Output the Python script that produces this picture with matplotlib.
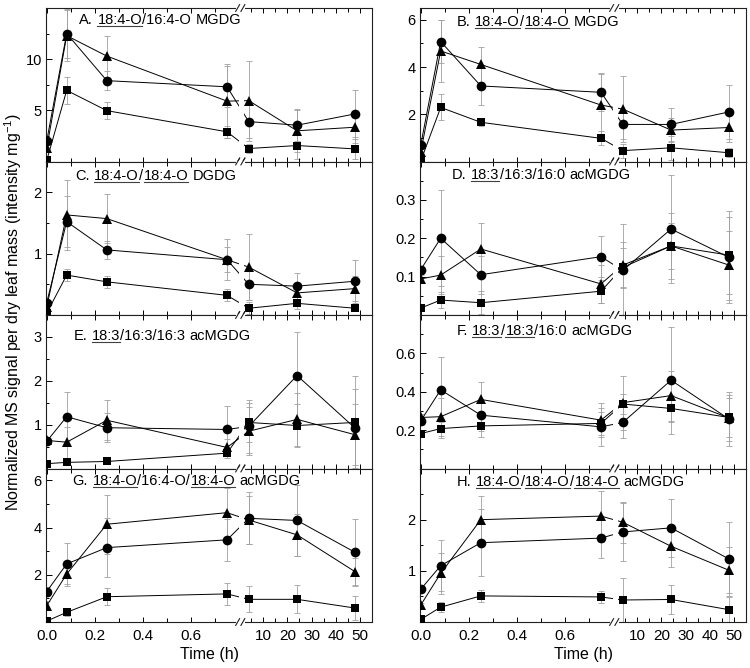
import numpy as np
import matplotlib
matplotlib.use("Agg")
import matplotlib.pyplot as plt
from matplotlib.lines import Line2D
from matplotlib.transforms import IdentityTransform

plt.rcParams['font.family'] = ['Liberation Sans', 'DejaVu Sans']
plt.rcParams['mathtext.fontset'] = 'custom'
plt.rcParams['mathtext.rm'] = 'Liberation Sans'

# ---------------- data ----------------
TIME = [0, 0.083, 0.25, 0.75, 4, 24, 48]
X_MAJOR = [0, 0.2, 0.4, 0.6, 10, 20, 30, 40, 50]
X_MAJOR_LABELS = ['0.0', '0.2', '0.4', '0.6', '10', '20', '30', '40', '50']
X_MINOR = [0.1, 0.3, 0.5, 0.7, 5, 15, 25, 35, 45]

A_circle = [2.0, 12.5, 7.9, 7.3, 3.9, 3.55, 4.65]
A_circle_err = [0.3, 2.4, 0.9, 2.0, 1.6, 1.5, 2.3]
A_triangle = [1.3, 12.3, 10.3, 5.9, 5.95, 3.0, 3.35]
A_triangle_err = [0.4, 2.5, 2.0, 3.6, 3.9, 2.1, 1.5]
A_square = [0.1, 6.95, 4.97, 2.9, 1.27, 1.56, 1.23]
A_square_err = [0.1, 1.3, 0.8, 0.6, 0.4, 1.3, 1.0]

B_circle = [0.7, 5.08, 3.2, 2.93, 1.57, 1.57, 2.1]
B_circle_err = [0.1, 0.9, 0.8, 0.8, 0.6, 0.7, 1.15]
B_triangle = [0.41, 4.68, 4.11, 2.39, 2.22, 1.33, 1.44]
B_triangle_err = [0.1, 1.3, 0.75, 1.3, 1.4, 0.5, 0.6]
B_square = [0.02, 2.29, 1.66, 0.98, 0.46, 0.58, 0.37]
B_square_err = [0.02, 0.55, 0.15, 0.3, 0.3, 0.5, 0.2]

C_circle = [0.2, 1.52, 1.06, 0.9, 0.5, 0.47, 0.55]
C_circle_err = [0.03, 0.42, 0.15, 0.33, 0.25, 0.22, 0.35]
C_triangle = [0.13, 1.63, 1.57, 0.9, 0.78, 0.36, 0.43]
C_triangle_err = [0.03, 0.57, 0.4, 0.2, 0.54, 0.15, 0.2]
C_square = [0.03, 0.65, 0.54, 0.32, 0.11, 0.19, 0.11]
C_square_err = [0.01, 0.1, 0.1, 0.1, 0.1, 0.1, 0.05]

D_circle = [0.118, 0.2, 0.105, 0.152, 0.116, 0.224, 0.15]
D_circle_err = [0.01, 0.125, 0.05, 0.053, 0.12, 0.14, 0.12]
D_triangle = [0.094, 0.104, 0.172, 0.081, 0.13, 0.18, 0.13]
D_triangle_err = [0.01, 0.05, 0.068, 0.05, 0.06, 0.085, 0.09]
D_square = [0.018, 0.039, 0.032, 0.062, 0.124, 0.18, 0.156]
D_square_err = [0.005, 0.02, 0.03, 0.03, 0.05, 0.06, 0.1]

E_circle = [0.62, 1.18, 0.93, 0.89, 0.96, 2.12, 0.92]
E_circle_err = [0.05, 0.56, 0.33, 0.53, 0.6, 1.0, 0.9]
E_triangle = [0.64, 0.6, 1.1, 0.48, 0.85, 1.12, 0.77]
E_triangle_err = [0.05, 0.35, 0.46, 0.2, 0.55, 0.6, 0.7]
E_square = [0.11, 0.14, 0.16, 0.35, 1.05, 0.98, 1.05]
E_square_err = [0.03, 0.03, 0.03, 0.1, 0.45, 0.5, 1.05]

F_circle = [0.248, 0.41, 0.278, 0.217, 0.24, 0.46, 0.257]
F_circle_err = [0.02, 0.17, 0.08, 0.1, 0.08, 0.28, 0.14]
F_triangle = [0.266, 0.27, 0.36, 0.252, 0.343, 0.38, 0.263]
F_triangle_err = [0.02, 0.1, 0.09, 0.09, 0.14, 0.13, 0.12]
F_square = [0.182, 0.208, 0.222, 0.235, 0.336, 0.313, 0.266]
F_square_err = [0.01, 0.05, 0.06, 0.06, 0.05, 0.07, 0.1]

G_circle = [1.29, 2.46, 3.15, 3.48, 4.39, 4.3, 2.95]
G_circle_err = [0.2, 0.87, 1.26, 0.9, 1.1, 1.5, 1.4]
G_triangle = [0.69, 2.03, 4.14, 4.63, 4.32, 3.69, 2.13]
G_triangle_err = [0.2, 0.5, 1.24, 1.03, 1.0, 0.9, 0.6]
G_square = [0.04, 0.41, 1.07, 1.19, 0.96, 0.96, 0.59]
G_square_err = [0.03, 0.15, 0.35, 0.45, 0.55, 0.6, 0.5]

H_circle = [0.64, 1.1, 1.55, 1.64, 1.76, 1.84, 1.23]
H_circle_err = [0.05, 0.5, 0.65, 0.38, 0.56, 0.57, 0.73]
H_triangle = [0.33, 0.95, 2.0, 2.07, 1.95, 1.48, 1.01]
H_triangle_err = [0.05, 0.4, 0.47, 0.5, 0.4, 0.41, 0.45]
H_square = [0.05, 0.29, 0.51, 0.49, 0.43, 0.44, 0.24]
H_square_err = [0.02, 0.1, 0.12, 0.12, 0.43, 0.28, 0.25]

# y axis: limits, labelled ticks, minor ticks
A_ylim, A_yticks, A_yminor = (0, 15), [5, 10], [2.5, 7.5, 12.5]
B_ylim, B_yticks, B_yminor = (0, 6.5), [2, 4, 6], [1, 3, 5]
C_ylim, C_yticks, C_yminor = (0, 2.5), [1, 2], [0.5, 1.5]
D_ylim, D_yticks, D_yminor = (0, 0.4), [0.1, 0.2, 0.3], [0.05, 0.15, 0.25, 0.35]
E_ylim, E_yticks, E_yminor = (0, 3.5), [1, 2, 3], [0.5, 1.5, 2.5]
F_ylim, F_yticks, F_yminor = (0, 0.8), [0.2, 0.4, 0.6], [0.1, 0.3, 0.5, 0.7]
G_ylim, G_yticks, G_yminor = (0, 6.5), [2, 4, 6], [1, 3, 5]
H_ylim, H_yticks, H_yminor = (0, 3.0), [1, 2], [0.5, 1.5, 2.5]

# titles: (text, underlined, space before)
A_title = [("A.", 0, 0), ("18:4-O", 1, 1), ("/16:4-O", 0, 0), ("MGDG", 0, 1)]
B_title = [("B.", 0, 0), ("18:4-O", 1, 1), ("/", 0, 0), ("18:4-O", 1, 0), ("MGDG", 0, 1)]
C_title = [("C.", 0, 0), ("18:4-O", 1, 1), ("/", 0, 0), ("18:4-O", 1, 0), ("DGDG", 0, 1)]
D_title = [("D.", 0, 0), ("18:3", 1, 1), ("/16:3/16:0", 0, 0), ("acMGDG", 0, 1)]
E_title = [("E.", 0, 0), ("18:3", 1, 1), ("/16:3/16:3", 0, 0), ("acMGDG", 0, 1)]
F_title = [("F.", 0, 0), ("18:3", 1, 1), ("/", 0, 0), ("18:3", 1, 0), ("/16:0", 0, 0), ("acMGDG", 0, 1)]
G_title = [("G.", 0, 0), ("18:4-O", 1, 1), ("/16:4-O/", 0, 0), ("18:4-O", 1, 0), ("acMGDG", 0, 1)]
H_title = [("H.", 0, 0), ("18:4-O", 1, 1), ("/", 0, 0), ("18:4-O", 1, 0), ("/", 0, 0),
           ("18:4-O", 1, 0), ("acMGDG", 0, 1)]

panels = [
    dict(row=0, col=0, c=A_circle, ce=A_circle_err, t=A_triangle, te=A_triangle_err, s=A_square, se=A_square_err,
         ylim=A_ylim, yt=A_yticks, ym=A_yminor, title=A_title, tx=0.102, ty=16.0),
    dict(row=0, col=1, c=B_circle, ce=B_circle_err, t=B_triangle, te=B_triangle_err, s=B_square, se=B_square_err,
         ylim=B_ylim, yt=B_yticks, ym=B_yminor, title=B_title, tx=0.114, ty=18.5),
    dict(row=1, col=0, c=C_circle, ce=C_circle_err, t=C_triangle, te=C_triangle_err, s=C_square, se=C_square_err,
         ylim=C_ylim, yt=C_yticks, ym=C_yminor, title=C_title, tx=0.090, ty=18.5),
    dict(row=1, col=1, c=D_circle, ce=D_circle_err, t=D_triangle, te=D_triangle_err, s=D_square, se=D_square_err,
         ylim=D_ylim, yt=D_yticks, ym=D_yminor, title=D_title, tx=0.098, ty=17.5),
    dict(row=2, col=0, c=E_circle, ce=E_circle_err, t=E_triangle, te=E_triangle_err, s=E_square, se=E_square_err,
         ylim=E_ylim, yt=E_yticks, ym=E_yminor, title=E_title, tx=0.084, ty=25.5),
    dict(row=2, col=1, c=F_circle, ce=F_circle_err, t=F_triangle, te=F_triangle_err, s=F_square, se=F_square_err,
         ylim=F_ylim, yt=F_yticks, ym=F_yminor, title=F_title, tx=0.112, ty=20.0),
    dict(row=3, col=0, c=G_circle, ce=G_circle_err, t=G_triangle, te=G_triangle_err, s=G_square, se=G_square_err,
         ylim=G_ylim, yt=G_yticks, ym=G_yminor, title=G_title, tx=0.082, ty=16.5),
    dict(row=3, col=1, c=H_circle, ce=H_circle_err, t=H_triangle, te=H_triangle_err, s=H_square, se=H_square_err,
         ylim=H_ylim, yt=H_yticks, ym=H_yminor, title=H_title, tx=0.112, ty=18.0),
]

# ---------------- broken time scale ----------------
K = 0.010054  # compression of the long-time segment


def fwd(x):
    return np.interp(x, [-1e3, 0.8, 1.0, 1e4], [-1e3, 0.8, 0.8 + K, 0.8 + K * 1e4])


def inv(p):
    return np.interp(p, [-1e3, 0.8, 0.8 + K, 0.8 + K * 1e4], [-1e3, 0.8, 1.0, 1e4])


W, H = 750, 668
fig = plt.figure(figsize=(W / 100, H / 100), dpi=100)

AX_W = 326
AX_H = 153.5
TOP0 = 8
COL_X = [46, 420]
TFS = 10.5

title_texts = []
for p in panels:
    x0 = COL_X[p['col']]
    top = TOP0 + p['row'] * AX_H
    ax = fig.add_axes([x0 / W, 1 - (top + AX_H) / H, AX_W / W, AX_H / H])
    ax.set_xscale('function', functions=(fwd, inv))
    ax.set_xlim(-0.003, 55)
    ax.set_ylim(*p['ylim'])

    for vals, err, mk, ms in [(p['c'], p['ce'], 'o', 7.0),
                              (p['t'], p['te'], '^', 7.5),
                              (p['s'], p['se'], 's', 6.2)]:
        ax.errorbar(TIME, vals, yerr=err, fmt='none', ecolor='#a0a0a0',
                    elinewidth=0.6, capsize=2.0, capthick=0.6, zorder=1)
        ax.plot(TIME, vals, '-', color='black', lw=0.7, zorder=2)
        ax.plot(TIME, vals, linestyle='none', marker=mk, ms=ms, color='black',
                markeredgewidth=0, zorder=3)

    # white gap where the lines cross the axis break
    ax.axvspan(0.82, 2.2, color='white', lw=0, zorder=2.4)

    ax.set_xticks(X_MAJOR)
    ax.set_xticks(X_MINOR, minor=True)
    ax.set_yticks(p['yt'], labels=['%g' % v for v in p['yt']])
    ax.set_yticks(p['ym'], minor=True)
    ax.tick_params(which='both', direction='in', top=True, right=False, width=0.7)
    ax.tick_params(axis='y', which='major', length=4, pad=3, labelsize=10.5)
    ax.tick_params(axis='y', which='minor', length=2.5)
    ax.tick_params(axis='x', which='major', length=3.5, pad=5.0, labelsize=11)
    ax.tick_params(axis='x', which='minor', length=3.0)
    if p['row'] == 3:
        ax.set_xticklabels(X_MAJOR_LABELS)
        ax.set_xlabel('Time (h)', fontsize=11.5, labelpad=3)
    else:
        ax.tick_params(axis='x', labelbottom=False)
    for sp in ax.spines.values():
        sp.set_linewidth(0.8)
        sp.set_color('#202020')

    # axis break marks
    bx = ax.transAxes.inverted().transform(ax.transData.transform((0.9, 0)))[0]
    for yb in (0, 1):
        ax.plot([bx - 0.009, bx + 0.009], [yb, yb], transform=ax.transAxes,
                color='white', lw=2.2, clip_on=False, zorder=5)
        for dx in (-0.008, 0.008):
            ax.plot([bx + dx - 0.006, bx + dx + 0.006], [yb - 0.022, yb + 0.022],
                    transform=ax.transAxes, color='#202020', lw=0.8,
                    clip_on=False, zorder=6)

    # title with underlined fragments
    prev = None
    ty = 1 - p['ty'] / AX_H
    for txt, ul, sp in p['title']:
        if prev is None:
            t = ax.text(p['tx'], ty, txt, transform=ax.transAxes, fontsize=TFS,
                        ha='left', va='baseline', zorder=7)
        else:
            gap = sp * TFS * 0.278 + 0.25
            t = ax.annotate(txt, xy=(1, 0), xycoords=prev, xytext=(gap, 0),
                            textcoords='offset points', ha='left', va='bottom',
                            fontsize=TFS, zorder=7)
        if ul:
            title_texts.append(t)
        prev = t

fig.text(13.0 / W, 1 - 312 / H,
         'Normalized MS signal per dry leaf mass (intensity mg$^{\\mathregular{-1}}$)',
         rotation=90, ha='center', va='center', fontsize=11.5)

fig.canvas.draw()
for t in title_texts:
    bb = t.get_window_extent()
    yl = bb.y0 + 1.2
    fig.add_artist(Line2D([bb.x0, bb.x1], [yl, yl], transform=IdentityTransform(),
                          color='#404040', lw=0.8))

fig.savefig('out.png', dpi=100)
